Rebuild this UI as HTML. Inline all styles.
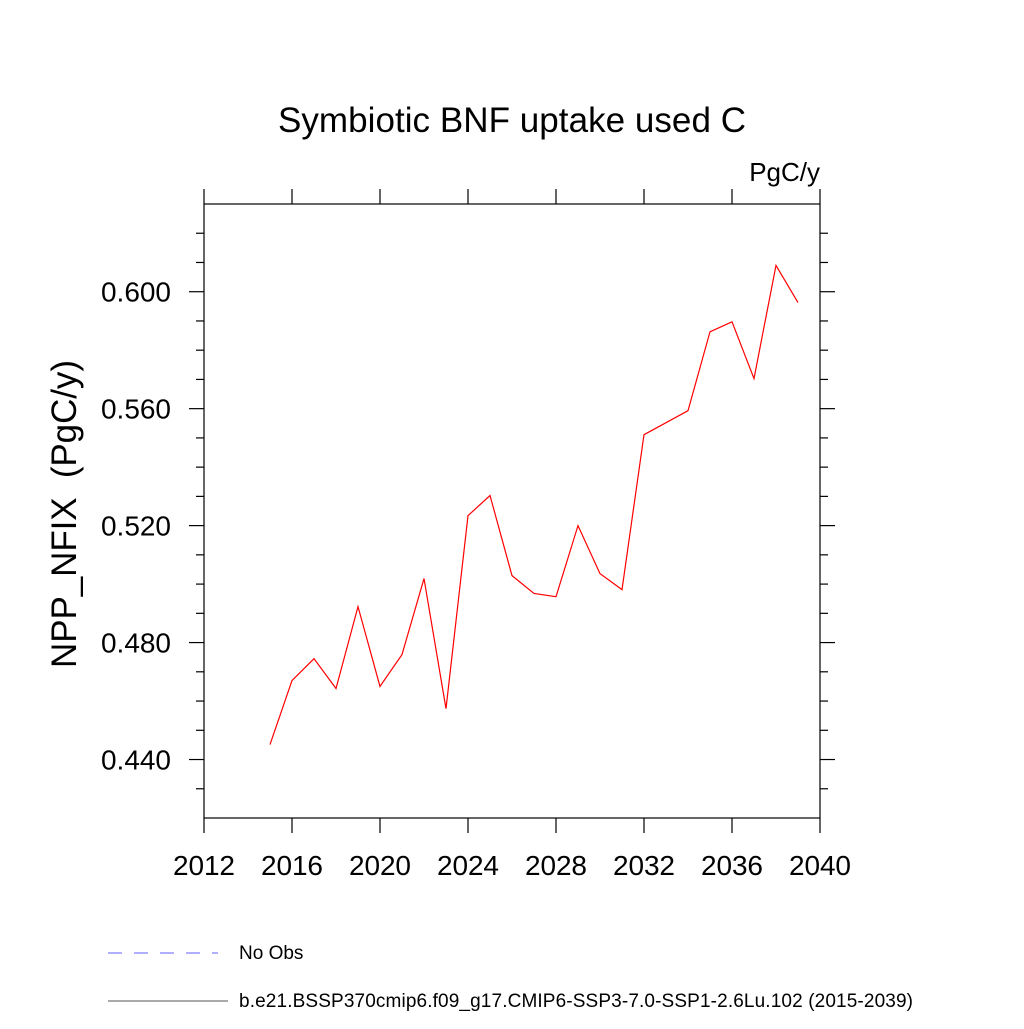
<!DOCTYPE html>
<html><head><meta charset="utf-8"><style>
body{margin:0;background:#fff}
svg text{font-family:"Liberation Sans",Helvetica,sans-serif}
</style></head><body>
<svg id="c" width="1024" height="1024" viewBox="0 0 1024 1024" xmlns="http://www.w3.org/2000/svg">
<text x="512" y="132" font-size="35" text-anchor="middle" textLength="468">Symbiotic BNF uptake used C</text>
<text x="820" y="181" font-size="26" text-anchor="end">PgC/y</text>
<text transform="translate(76,514) rotate(-90)" font-size="35" text-anchor="middle" style="white-space:pre" textLength="308">NPP_NFIX  (PgC/y)</text>
<rect x="204" y="204" width="616" height="614" fill="none" stroke="#000" stroke-width="1.2"/>
<g id="ax"></g>
<polyline id="ln" fill="none" stroke="#ff0000" stroke-width="1.2"/>
<line x1="108" y1="953" x2="218" y2="953" stroke="#6060ff" stroke-width="1" stroke-dasharray="14,12"/>
<text x="239" y="959" font-size="19">No Obs</text>
<line x1="108" y1="1001" x2="228" y2="1001" stroke="#555" stroke-width="1"/>
<text x="239" y="1007" font-size="19" textLength="674">b.e21.BSSP370cmip6.f09_g17.CMIP6-SSP3-7.0-SSP1-2.6Lu.102 (2015-2039)</text>
</svg>
<script>
const years=[2015,2016,2017,2018,2019,2020,2021,2022,2023,2024,2025,2026,2027,2028,2029,2030,2031,2032,2033,2034,2035,2036,2037,2038,2039];
const values=[0.4451,0.4670,0.4745,0.4643,0.4923,0.4650,0.4759,0.5019,0.4574,0.5234,0.5303,0.5029,0.4968,0.4957,0.5200,0.5036,0.4981,0.5511,0.5552,0.5593,0.5863,0.5897,0.5703,0.6090,0.5963];
const xTicks=[2012,2016,2020,2024,2028,2032,2036,2040];
const yTicks=[0.440,0.480,0.520,0.560,0.600];
const yMinor=[0.43,0.45,0.46,0.47,0.49,0.50,0.51,0.53,0.54,0.55,0.57,0.58,0.59,0.61,0.62];
const xs=v=>204+(v-2012)*616/28;
const ys=v=>818-(v-0.42)*614/0.21;
const NS="http://www.w3.org/2000/svg";
const ax=document.getElementById('ax');
function L(x1,y1,x2,y2){const l=document.createElementNS(NS,'line');l.setAttribute('x1',x1);l.setAttribute('y1',y1);l.setAttribute('x2',x2);l.setAttribute('y2',y2);l.setAttribute('stroke','#000');l.setAttribute('stroke-width','1.2');


ax.appendChild(l);}
function T(x,y,s,a,w){const t=document.createElementNS(NS,'text');t.setAttribute('x',x);t.setAttribute('y',y);t.setAttribute('font-size','28');t.setAttribute('text-anchor',a);t.setAttribute('textLength',w);t.textContent=s;


ax.appendChild(t);}
xTicks.forEach(v=>{const x=xs(v);L(x,818,x,833);L(x,204,x,189);T(x,875,String(v),'middle',62);});
yTicks.forEach(v=>{const y=ys(v);L(189,y,204,y);L(820,y,835,y);T(171,y+10,v.toFixed(3),'end',70);});
yMinor.forEach(v=>{const y=ys(v);L(196,y,204,y);L(820,y,828,y);});
document.getElementById('ln').setAttribute('points',years.map((y,i)=>xs(y)+','+ys(values[i])).join(' '));
</script>
</body></html>
